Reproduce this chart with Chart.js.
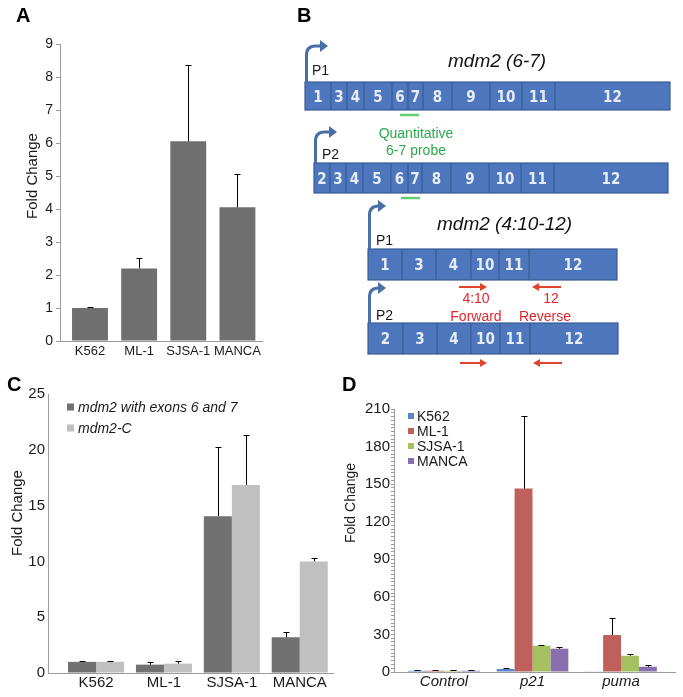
<!DOCTYPE html>
<html><head><meta charset="utf-8">
<script src="https://cdn.jsdelivr.net/npm/chart.js@4.4.1/dist/chart.umd.min.js"></script>
<style>
html,body{margin:0;padding:0;background:#fff;}
body{width:683px;height:697px;position:relative;overflow:hidden;}
canvas{position:absolute;}
#ov{position:absolute;left:0;top:0;}
</style></head>
<body>
<canvas id="cA" width="280" height="372" style="left:0;top:0"></canvas>
<canvas id="cC" width="345" height="337" style="left:0;top:360px"></canvas>
<canvas id="cD" width="348" height="337" style="left:335px;top:360px"></canvas>
<svg id="ov" width="683" height="697" xmlns="http://www.w3.org/2000/svg"></svg>
<script>
// ---------------- DATA ----------------
// Panel A
const cellLinesA = ['K562', 'ML-1', 'SJSA-1', 'MANCA'];
const foldA = [1.0, 2.2, 6.05, 4.05];
const errA = [0.02, 0.33, 2.3, 1.0];
const yTicksA = [0, 1, 2, 3, 4, 5, 6, 7, 8, 9];

// Panel C
const cellLinesC = ['K562', 'ML-1', 'SJSA-1', 'MANCA'];
const seriesC = ['mdm2 with exons 6 and 7', 'mdm2-C'];
const foldC_exon67 = [1.0, 0.75, 14.05, 3.2];
const errC_exon67 = [0.05, 0.2, 6.2, 0.5];
const foldC_mdm2C = [1.0, 0.84, 16.85, 10.0];
const errC_mdm2C = [0.05, 0.22, 4.45, 0.33];
const yTicksC = [0, 5, 10, 15, 20, 25];

// Panel D
const genesD = ['Control', 'p21', 'puma'];
const seriesD = ['K562', 'ML-1', 'SJSA-1', 'MANCA'];
const foldD_K562 = [1.0, 2.4, 0.5];
const errD_K562 = [0.3, 0.5, 0];
const foldD_ML1 = [1.0, 146.5, 29.5];
const errD_ML1 = [0.3, 58, 14];
const foldD_SJSA1 = [1.0, 21.0, 13.0];
const errD_SJSA1 = [0.3, 0.4, 1.4];
const foldD_MANCA = [1.0, 18.6, 4.2];
const errD_MANCA = [0.3, 1.6, 1.7];
const yTicksD = [0, 30, 60, 90, 120, 150, 180, 210];

// Panel B (gene structure diagram)
const exonsP1_67 = ['1', '3', '4', '5', '6', '7', '8', '9', '10', '11', '12'];
const exonsP2_67 = ['2', '3', '4', '5', '6', '7', '8', '9', '10', '11', '12'];
const exonsP1_410 = ['1', '3', '4', '10', '11', '12'];
const exonsP2_410 = ['2', '3', '4', '10', '11', '12'];

// ---------------- STYLE ----------------
const FONT = '"Liberation Sans", Arial, Helvetica, sans-serif';
const EXON_FONT = '"Liberation Sans Narrow", "DejaVu Sans Condensed", "Liberation Sans", sans-serif';
const AXIS = '#9a9a9a';
const TXT = '#1a1a1a';
Chart.defaults.font.family = FONT;
Chart.defaults.color = TXT;
Chart.defaults.animation = false;

const errorBars = {
  id: 'errorBars',
  afterDatasetsDraw(chart, args, opts) {
    const ctx = chart.ctx, ys = chart.scales.y;
    const cap = opts.cap || 3;
    chart.data.datasets.forEach((ds, di) => {
      if (!ds.errors) return;
      const meta = chart.getDatasetMeta(di);
      meta.data.forEach((bar, i) => {
        const e = ds.errors[i];
        if (!e) return;
        const v = ds.data[i].y;
        const yTop = Math.round(ys.getPixelForValue(v + e)) + 0.5;
        const x = Math.round(bar.x) + 0.5;
        ctx.save();
        ctx.strokeStyle = '#000';
        ctx.lineWidth = 1;
        ctx.beginPath();
        ctx.moveTo(x, bar.y);
        ctx.lineTo(x, yTop);
        ctx.moveTo(x - cap, yTop);
        ctx.lineTo(x + cap, yTop);
        ctx.stroke();
        ctx.restore();
      });
    });
  }
};

function xLinear(labels, min, max, font, padding, height) {
  return {
    type: 'linear', min, max, offset: false,
    grid: { display: false, drawTicks: false, offset: false },
    border: { color: AXIS, width: 1 },
    afterBuildTicks: s => { s.ticks = labels.map((_, i) => ({ value: i })); },
    ticks: { autoSkip: false, maxRotation: 0, padding, font, color: TXT,
      callback: v => (labels[v] !== undefined ? labels[v] : '') },
    afterFit: s => { s.height = height; }
  };
}
function yLinear(min, max, step, width, font, padding, tickLen, labelTicks) {
  return {
    type: 'linear', min, max,
    ticks: { stepSize: step, autoSkip: false, padding, font, color: TXT,
      callback: v => (labelTicks.includes(v) ? String(v) : '') },
    grid: { drawOnChartArea: false, drawTicks: tickLen > 0, tickLength: tickLen, color: AXIS },
    border: { color: AXIS, width: 1 },
    afterFit: s => { s.width = width; }
  };
}
const pts = arr => arr.map((v, i) => ({ x: i, y: v }));
const basePlugins = { legend: { display: false }, tooltip: { enabled: false } };

// Panel A
new Chart(document.getElementById('cA'), {
  type: 'bar',
  data: { datasets: [{ label: 'Fold Change', data: pts(foldA), errors: errA,
    backgroundColor: '#6f6f6f', barPercentage: 1, categoryPercentage: 0.73 }] },
  options: {
    responsive: false, animation: false,
    layout: { padding: { left: 0, top: 44, right: 18, bottom: 0 } },
    plugins: Object.assign({ errorBars: { cap: 3 } }, basePlugins),
    scales: {
      x: xLinear(cellLinesA, -0.61, 3.5, { size: 13 }, 3, 31),
      y: yLinear(0, 9, 1, 60, { size: 14 }, 3, 4, yTicksA)
    }
  },
  plugins: [errorBars]
});

// Panel C
new Chart(document.getElementById('cC'), {
  type: 'bar',
  data: { datasets: [
    { label: seriesC[0], data: pts(foldC_exon67), errors: errC_exon67, backgroundColor: '#717171', barPercentage: 1, categoryPercentage: 0.826 },
    { label: seriesC[1], data: pts(foldC_mdm2C), errors: errC_mdm2C, backgroundColor: '#c0c0c0', barPercentage: 1, categoryPercentage: 0.826 }
  ] },
  options: {
    responsive: false, animation: false,
    layout: { padding: { left: 0, top: 34, right: 12, bottom: 0 } },
    plugins: Object.assign({ errorBars: { cap: 3 } }, basePlugins),
    scales: {
      x: xLinear(cellLinesC, -0.708, 3.49, { size: 15 }, 1, 24),
      y: yLinear(0, 25, 5, 48, { size: 15 }, 3, 0, yTicksC)
    }
  },
  plugins: [errorBars]
});

// Panel D
const colorsD = ['#5a86c4', '#c0605c', '#a3c160', '#8a6fae'];
const foldD = [foldD_K562, foldD_ML1, foldD_SJSA1, foldD_MANCA];
const errD = [errD_K562, errD_ML1, errD_SJSA1, errD_MANCA];
new Chart(document.getElementById('cD'), {
  type: 'bar',
  data: { datasets: seriesD.map((s, k) => ({ label: s, data: pts(foldD[k]), errors: errD[k],
    backgroundColor: colorsD[k], barPercentage: 1, categoryPercentage: 0.81 })) },
  options: {
    responsive: false, animation: false,
    layout: { padding: { left: 0, top: 49, right: 8, bottom: 0 } },
    plugins: Object.assign({ errorBars: { cap: 3 } }, basePlugins),
    scales: {
      x: xLinear(genesD, -0.565, 2.61, { size: 15, style: 'italic' }, 1, 25),
      y: yLinear(0, 210, 3, 59, { size: 15 }, 1, 3, yTicksD)
    }
  },
  plugins: [errorBars]
});

// ---------------- OVERLAY (text, legends, diagram) ----------------
const svg = document.getElementById('ov');
const NS = 'http://www.w3.org/2000/svg';
function el(tag, attrs, text) {
  const e = document.createElementNS(NS, tag);
  for (const k in attrs) e.setAttribute(k, attrs[k]);
  if (text != null) e.textContent = text;
  svg.appendChild(e);
  return e;
}
function txt(s, x, y, size, o = {}) {
  const a = { x, y, 'font-size': size, 'font-family': o.family || FONT, fill: o.fill || TXT,
    'font-style': o.italic ? 'italic' : 'normal', 'font-weight': o.bold ? 'bold' : 'normal',
    'text-anchor': o.anchor || 'start' };
  if (o.transform) a.transform = o.transform;
  return el('text', a, s);
}
function vtitle(s, bx, cy, size) {
  txt(s, 0, 0, size, { anchor: 'middle', transform: `translate(${bx},${cy}) rotate(-90)` });
}

// panel letters
txt('A', 16, 22, 20, { bold: true, fill: '#000' });
txt('B', 297, 22, 20, { bold: true, fill: '#000' });
txt('C', 7, 391, 20, { bold: true, fill: '#000' });
txt('D', 342, 391, 20, { bold: true, fill: '#000' });

// axis titles
vtitle('Fold Change', 37, 176, 15);
vtitle('Fold Change', 22, 513, 15);
vtitle('Fold Change', 355, 503, 14);

// legend C
const legendColorsC = ['#717171', '#c0c0c0'];
seriesC.forEach((s, k) => {
  const cy = 407 + k * 21;
  el('rect', { x: 67, y: cy - 3.5, width: 7, height: 7, fill: legendColorsC[k] });
  txt(s, 78, cy + 5, 14, { italic: true });
});
// legend D
seriesD.forEach((s, k) => {
  const cy = 416 + k * 15;
  el('rect', { x: 408, y: cy - 3, width: 6, height: 6, fill: colorsD[k] });
  txt(s, 417, cy + 5, 14);
});

// Panel B diagram
const geneRows = [
  { labels: exonsP1_67, edges: [305, 331, 347, 364, 392, 408, 423, 452, 490, 522, 555, 670], top: 82, bottom: 110 },
  { labels: exonsP2_67, edges: [314, 330, 346, 363, 391, 408, 422, 451, 489, 521, 554, 668], top: 163, bottom: 193 },
  { labels: exonsP1_410, edges: [368, 402, 436, 471, 499, 529, 617], top: 249, bottom: 280 },
  { labels: exonsP2_410, edges: [368, 403, 437, 471, 500, 530, 618], top: 323, bottom: 354 }
];
geneRows.forEach(r => {
  const x0 = r.edges[0], x1 = r.edges[r.edges.length - 1];
  el('rect', { x: x0, y: r.top, width: x1 - x0, height: r.bottom - r.top, fill: '#4d76bd', stroke: '#3a5b95', 'stroke-width': 1.2 });
  for (let i = 1; i < r.edges.length - 1; i++)
    el('line', { x1: r.edges[i], x2: r.edges[i], y1: r.top, y2: r.bottom, stroke: '#34558c', 'stroke-width': 1 });
  r.labels.forEach((l, i) => txt(l, (r.edges[i] + r.edges[i + 1]) / 2, (r.top + r.bottom) / 2 + 5.5, 15,
    { anchor: 'middle', fill: '#e6edf8', bold: true, family: EXON_FONT }));
});
function promoter(x0, barTop, yTop, tipX) {
  const r = 9, c = '#4a6fa6';
  el('path', { d: `M${x0} ${barTop} L${x0} ${yTop + r} Q${x0} ${yTop} ${x0 + r} ${yTop} L${tipX - 6} ${yTop}`, fill: 'none', stroke: c, 'stroke-width': 3 });
  el('path', { d: `M${tipX - 8} ${yTop - 6} L${tipX} ${yTop} L${tipX - 8} ${yTop + 6} Z`, fill: c });
}
promoter(306.5, 82, 46, 328);
promoter(315.5, 163, 132, 337);
promoter(369.5, 249, 206, 386);
promoter(369.5, 323, 288, 386);
txt('P1', 312, 75, 14);
txt('P2', 322, 159, 14);
txt('P1', 376, 245, 14);
txt('P2', 376, 320, 14);
txt('mdm2 (6-7)', 448, 67, 19, { italic: true, fill: '#111' });
txt('mdm2 (4:10-12)', 437, 230, 19, { italic: true, fill: '#111' });
const GREEN = '#2aaa4a';
el('line', { x1: 400, x2: 419, y1: 115, y2: 115, stroke: '#5fcf73', 'stroke-width': 2.5 });
el('line', { x1: 401, x2: 420, y1: 198, y2: 198, stroke: '#5fcf73', 'stroke-width': 2.5 });
txt('Quantitative', 416, 138, 14, { anchor: 'middle', fill: GREEN });
txt('6-7 probe', 416, 155, 14, { anchor: 'middle', fill: GREEN });
function redArrow(x1, x2, y) {
  const dir = Math.sign(x2 - x1), c = '#e0432b';
  el('line', { x1, y1: y, x2: x2 - dir * 5, y2: y, stroke: c, 'stroke-width': 2 });
  el('path', { d: `M${x2 - dir * 7} ${y - 4} L${x2} ${y} L${x2 - dir * 7} ${y + 4} Z`, fill: c });
}
redArrow(459, 487, 287);
redArrow(561, 532, 287);
redArrow(460, 487, 363);
redArrow(562, 533, 363);
const RED = '#e3262e';
txt('4:10', 476, 302.5, 14, { anchor: 'middle', fill: RED });
txt('Forward', 476, 320.5, 14, { anchor: 'middle', fill: RED });
txt('12', 551, 302.5, 14, { anchor: 'middle', fill: RED });
txt('Reverse', 545, 320.5, 14, { anchor: 'middle', fill: RED });
</script>
</body></html>
